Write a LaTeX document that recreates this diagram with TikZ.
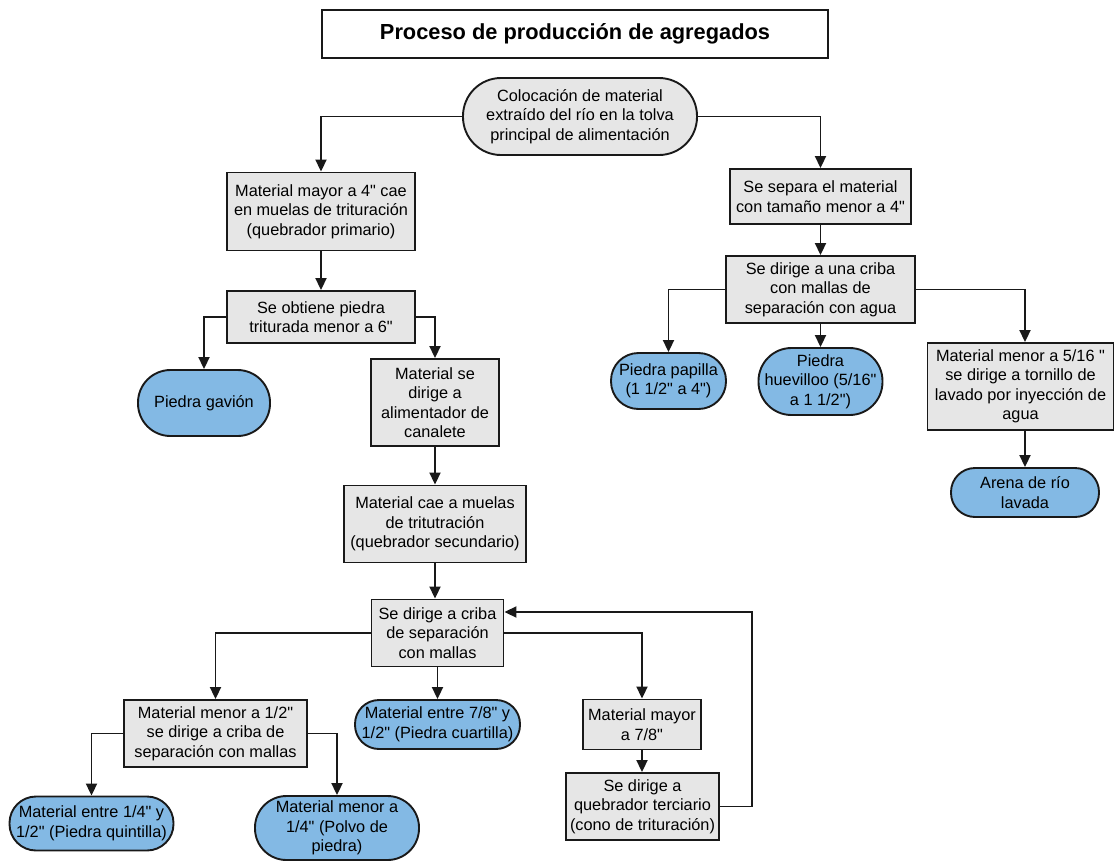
\documentclass[tikz,border=0pt]{standalone}
\usepackage{fontspec}
\setmainfont{Liberation Sans}
\usetikzlibrary{arrows.meta}
\font\lsans="Liberation Sans" at 16.3pt
\font\lsansb="Liberation Sans/B" at 21.8pt
\definecolor{boxgray}{RGB}{230,230,230}
\definecolor{fillblue}{RGB}{131,185,228}
\definecolor{linedark}{RGB}{25,25,25}
\tikzset{
  base/.style={draw=linedark, line width=1.9pt, inner sep=0pt, align=center,
    font=\fontsize{16.3}{19.5}\selectfont\lsans, text=black},
  procbox/.style={base, fill=boxgray, rectangle},
  term/.style={base, fill=fillblue},
  termgray/.style={base, fill=boxgray},
  arr/.style={draw=linedark, line width=1.9pt, -{Triangle[width=11pt,length=12pt]}},
}
\begin{document}
\begin{tikzpicture}[x=1pt,y=-1pt]
\useasboundingbox (0,0) rectangle (1114,860);
% title
\node[draw=linedark, line width=1.5pt, fill=white, minimum width=506pt, minimum height=48pt,
  inner sep=0pt, font=\lsansb] (title) at (575,34) {Proceso de producción de agregados};
% top
\node[termgray, minimum width=234pt, minimum height=77pt, rounded corners=38pt] (ell) at (580,116.5)
  {Colocación de material\\extraído del río en la tolva\\principal de alimentación};
% left branch
\node[procbox, minimum width=188pt, minimum height=78pt] (b1) at (321,211.5)
  {Material mayor a 4" cae\\en muelas de trituración\\(quebrador primario)};
\node[procbox, minimum width=188pt, minimum height=52pt] (b2) at (321,317)
  {Se obtiene piedra\\triturada menor a 6"};
\node[term, minimum width=132pt, minimum height=66pt, rounded corners=32.5pt] (gav) at (204,403)
  {Piedra gavión};
\node[procbox, minimum width=128pt, minimum height=87pt] (b3) at (435,402.5)
  {Material se\\dirige a\\alimentador de\\canalete};
\node[procbox, minimum width=182pt, minimum height=77pt] (b4) at (435,524)
  {Material cae a muelas\\de tritutración\\(quebrador secundario)};
\node[procbox, minimum width=132pt, minimum height=67pt] (b5) at (437.5,633)
  {Se dirige a criba\\de separación\\con mallas};
\node[procbox, minimum width=183pt, minimum height=67pt] (b6) at (215.5,733.5)
  {Material menor a 1/2"\\se dirige a criba de\\separación con mallas};
\node[term, minimum width=164pt, minimum height=54pt, rounded corners=26.5pt] (qui) at (91.5,823.5)
  {Material entre 1/4" y\\1/2" (Piedra quintilla)};
\node[term, minimum width=164pt, minimum height=64pt, rounded corners=31.5pt] (pol) at (337,828)
  {Material menor a\\1/4" (Polvo de\\piedra)};
\node[term, minimum width=165pt, minimum height=49pt, rounded corners=24pt] (cua) at (437.5,724.5)
  {Material entre 7/8" y\\1/2" (Piedra cuartilla)};
\node[procbox, minimum width=118pt, minimum height=50pt] (b7) at (642,724.5)
  {Material mayor\\a 7/8"};
\node[procbox, minimum width=153pt, minimum height=67pt] (b8) at (642.5,806.5)
  {Se dirige a\\quebrador terciario\\(cono de trituración)};
% right branch
\node[procbox, minimum width=181pt, minimum height=55pt] (r1) at (820.5,196.5)
  {Se separa el material\\con tamaño menor a 4"};
\node[procbox, minimum width=189pt, minimum height=67pt] (r2) at (820.5,289.5)
  {Se dirige a una criba\\con mallas de\\separación con agua};
\node[term, minimum width=115pt, minimum height=56pt, rounded corners=27.5pt] (pap) at (668.5,381)
  {Piedra papilla\\(1 1/2" a 4")};
\node[term, minimum width=124pt, minimum height=67pt, rounded corners=33pt] (hue) at (820.5,381.5)
  {Piedra\\huevilloo (5/16"\\a 1 1/2")};
\node[procbox, minimum width=186pt, minimum height=87pt] (r3) at (1020.5,386.5)
  {Material menor a 5/16 "\\se dirige a tornillo de\\lavado por inyección de\\agua};
\node[term, minimum width=148pt, minimum height=49pt, rounded corners=24pt] (ar) at (1025,492.5)
  {Arena de río\\lavada};
\coordinate (fb) at (752,612);
% connectors
\draw[arr] (ell.west) -| (b1.north);
\draw[arr] (ell.east) -| (r1.north);
\draw[arr] (b1.south) -- (b2.north);
\draw[arr] (b2.west) -| (gav.north);
\draw[arr] (b2.east) -| (b3.north);
\draw[arr] (b3.south) -- (b4.north);
\draw[arr] (b4.south) -- (b4.south |- b5.north);
\draw[arr] (b5.west) -| (b6.north);
\draw[arr] (b5.south) -- (b5.south |- cua.north);
\draw[arr] (b5.east) -| (b7.north);
\draw[arr] (b6.west) -| (qui.north);
\draw[arr] (b6.east) -| (pol.north);
\draw[arr] (b7.south) -- (b7.south |- b8.north);
\draw[arr] (b8.east) -| (fb) -- (b5.east |- fb);
\draw[arr] (r1.south) -- (r2.north);
\draw[arr] (r2.west) -| (pap.north);
\draw[arr] (r2.south) -- (hue.north);
\draw[arr] (r2.east) -| (ar.north |- r3.north);
\draw[arr] (ar.north |- r3.south) -- (ar.north);
\end{tikzpicture}
\end{document}
